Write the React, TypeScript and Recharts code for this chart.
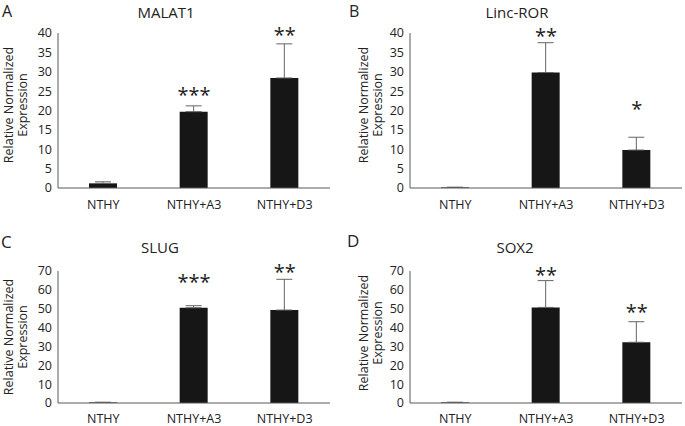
import React from "react";
import { ComposedChart, Bar, Line, XAxis, YAxis, ErrorBar, LabelList } from "recharts";

const FONT = "'Open Sans', 'Noto Sans', sans-serif";
const INK = "#222";
const AXIS = "#595959";

const categories = ["NTHY", "NTHY+A3", "NTHY+D3"];

// A - MALAT1
const malatValues = [1.2, 19.7, 28.4];
const malatErrors = [0.4, 1.5, 8.8];
const malatStars = ["", "***", "**"];
const malatStarLevels = [null, 22.2, 37.7];

// B - Linc-ROR
const lincValues = [0.15, 29.8, 9.8];
const lincErrors = [0.05, 7.7, 3.3];
const lincStars = ["", "**", "*"];
const lincStarLevels = [null, 37.4, 18.6];

// C - SLUG
const slugValues = [0.3, 50.5, 49.3];
const slugErrors = [0.1, 1.1, 16.3];
const slugStars = ["", "***", "**"];
const slugStarLevels = [null, 60.5, 65.8];

// D - SOX2
const sox2Values = [0.3, 50.7, 32.2];
const sox2Errors = [0.1, 14.2, 10.9];
const sox2Stars = ["", "**", "**"];
const sox2StarLevels = [null, 64.2, 44.5];

const ticksTop = [0, 5, 10, 15, 20, 25, 30, 35, 40];
const ticksBottom = [0, 10, 20, 30, 40, 50, 60, 70];

const StarLabel = (props: any) => {
  const { x, y, width, value } = props;
  if (!value || y == null) return null;
  const cx = width ? x + width / 2 : x;
  return (
    <text x={cx} y={y} textAnchor="middle" fontSize={20} fontFamily={FONT} fill={INK}>
      {value}
    </text>
  );
};

interface PanelProps {
  left: number;
  top: number;
  width: number;
  axisWidth: number;
  marginTop: number;
  plotHeight: number;
  labelGap: number;
  values: number[];
  errors: number[];
  stars: string[];
  starLevels: (number | null)[];
  ticks: number[];
}

function Panel({ left, top, width, axisWidth, marginTop, plotHeight, labelGap, values, errors, stars, starLevels, ticks }: PanelProps) {
  const data = categories.map((name, i) => ({
    name,
    value: values[i],
    err: [0, errors[i]],
    star: stars[i],
    starLevel: starLevels[i],
  }));
  const xAxisHeight = 30;
  return (
    <div style={{ position: "absolute", left, top }}>
      <ComposedChart
        width={width}
        height={marginTop + plotHeight + xAxisHeight}
        data={data}
        margin={{ top: marginTop, right: width - axisWidth - 272, bottom: 0, left: 0 }}
      >
        <XAxis
          dataKey="name"
          height={xAxisHeight}
          interval={0}
          axisLine={{ stroke: AXIS }}
          tickLine={false}
          tickSize={0}
          tickMargin={labelGap}
          tick={{ fontSize: 12.5, fill: INK, fontFamily: FONT }}
        />
        <YAxis
          width={axisWidth}
          domain={[0, ticks[ticks.length - 1]]}
          ticks={ticks}
          interval={0}
          axisLine={{ stroke: AXIS }}
          tickLine={false}
          tickSize={0}
          tickMargin={6}
          tick={{ fontSize: 12.5, fill: INK, fontFamily: FONT }}
        />
        <Bar dataKey="value" fill="#161616" barSize={28} isAnimationActive={false}>
          <ErrorBar dataKey="err" width={8} stroke="#666" strokeWidth={1} direction="y" />
        </Bar>
        <Line
          dataKey="starLevel"
          stroke="none"
          dot={false}
          activeDot={false}
          isAnimationActive={false}
          legendType="none"
        >
          <LabelList dataKey="star" content={StarLabel} />
        </Line>
      </ComposedChart>
    </div>
  );
}

const YLabel = ({ x1, x2, cy }: { x1: number; x2: number; cy: number }) => (
  <g fontFamily={FONT} fontSize={12.5} fill={INK} textAnchor="middle">
    <text transform={`translate(${x1},${cy}) rotate(-90)`}>Relative Normalized</text>
    <text transform={`translate(${x2},${cy}) rotate(-90)`}>Expression</text>
  </g>
);

export default function App() {
  return (
    <div
      style={{
        position: "absolute",
        left: 0,
        top: 0,
        width: 685,
        height: 426,
        overflow: "hidden",
        background: "#fff",
      }}
    >
      <Panel left={0} top={0} width={340} axisWidth={58} marginTop={33} plotHeight={155} labelGap={12}
        values={malatValues} errors={malatErrors} stars={malatStars} starLevels={malatStarLevels} ticks={ticksTop} />
      <Panel left={340} top={0} width={345} axisWidth={70} marginTop={33} plotHeight={155} labelGap={12}
        values={lincValues} errors={lincErrors} stars={lincStars} starLevels={lincStarLevels} ticks={ticksTop} />
      <Panel left={0} top={210} width={340} axisWidth={58} marginTop={61} plotHeight={132} labelGap={11}
        values={slugValues} errors={slugErrors} stars={slugStars} starLevels={slugStarLevels} ticks={ticksBottom} />
      <Panel left={340} top={210} width={345} axisWidth={70} marginTop={61} plotHeight={132} labelGap={11}
        values={sox2Values} errors={sox2Errors} stars={sox2Stars} starLevels={sox2StarLevels} ticks={ticksBottom} />

      <svg width={685} height={426} style={{ position: "absolute", left: 0, top: 0, pointerEvents: "none" }}>
        <g fontFamily={FONT} fill={INK}>
          <text x={2} y={17} fontSize={16}>A</text>
          <text x={349} y={17} fontSize={16}>B</text>
          <text x={1} y={248} fontSize={17}>C</text>
          <text x={347} y={247} fontSize={17}>D</text>
          <text x={166} y={18} fontSize={15} textAnchor="middle">MALAT1</text>
          <text x={517} y={18} fontSize={15} textAnchor="middle">Linc-ROR</text>
          <text x={160} y={253} fontSize={15} textAnchor="middle">SLUG</text>
          <text x={515} y={253} fontSize={15} textAnchor="middle">SOX2</text>
        </g>
        <YLabel x1={13} x2={27} cy={105} />
        <YLabel x1={368} x2={382} cy={105} />
        <YLabel x1={13} x2={27} cy={337} />
        <YLabel x1={368} x2={382} cy={333} />
      </svg>
    </div>
  );
}
